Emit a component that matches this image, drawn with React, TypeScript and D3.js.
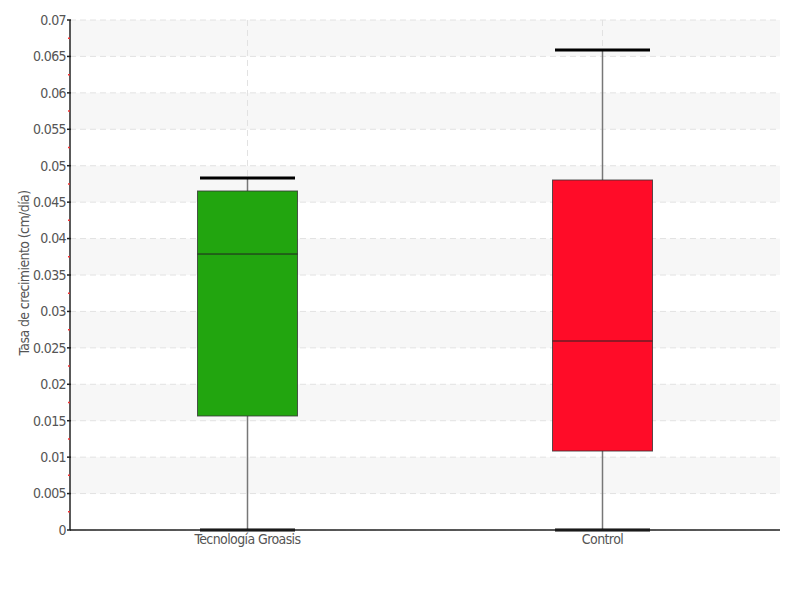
import React from "react";
import * as d3 from "d3";

const categories = ["Tecnología Groasis", "Control"];
const mins = [0, 0];
const q1s = [0.01565, 0.01084];
const medians = [0.03788, 0.02594];
const q3s = [0.04653, 0.04804];
const maxs = [0.04831, 0.06588];
const colors = ["#22a50f", "#ff0c28"];
const yTicks = d3.range(0, 0.0701, 0.005);
const yTitle = "Tasa de crecimiento (cm/día)";

export default function App() {
  const W = 800, H = 600;
  const left = 70, right = 780, top = 20, bottom = 530;
  const x = d3.scaleBand().domain(categories).range([left, right]);
  const y = d3.scaleLinear().domain([0, 0.07]).range([bottom, top]);
  const font = "'DejaVu Sans Condensed', 'Liberation Sans Narrow', sans-serif";
  const bands = yTicks.slice(0, -1).filter((_, i) => i % 2 === 1);
  const minor = yTicks.slice(0, -1).map((t) => t + 0.0025);
  const bw = 100, cw = 95;
  return (
    <svg width={W} height={H} style={{ position: "absolute", left: 0, top: 0 }}>
      {bands.map((t, i) => (
        <rect key={"b" + i} x={left} y={y(t + 0.005)} width={right - left} height={y(t) - y(t + 0.005)} fill="#f7f7f7" />
      ))}
      {yTicks.map((t, i) => (
        <line key={"g" + i} x1={left} x2={right} y1={y(t)} y2={y(t)} stroke="#e2e2e2" strokeDasharray="6,4" />
      ))}
      {categories.map((c, i) => (
        <line key={"vg" + i} x1={x(c)! + x.bandwidth() / 2} x2={x(c)! + x.bandwidth() / 2} y1={top} y2={bottom} stroke="#e2e2e2" strokeDasharray="6,4" />
      ))}
      {categories.map((c, i) => {
        const cx = x(c)! + x.bandwidth() / 2;
        return (
          <g key={"box" + i}>
            <line x1={cx} x2={cx} y1={y(maxs[i])} y2={y(mins[i])} stroke="#777" strokeWidth={1.5} />
            <line x1={cx - cw / 2} x2={cx + cw / 2} y1={y(maxs[i])} y2={y(maxs[i])} stroke="#000" strokeWidth={3} />
            <line x1={cx - cw / 2} x2={cx + cw / 2} y1={y(mins[i])} y2={y(mins[i])} stroke="#000" strokeWidth={3} />
            <rect x={cx - bw / 2} y={y(q3s[i])} width={bw} height={y(q1s[i]) - y(q3s[i])} fill={colors[i]} stroke="#333" strokeOpacity={0.8} strokeWidth={1} />
            <line x1={cx - bw / 2} x2={cx + bw / 2} y1={y(medians[i])} y2={y(medians[i])} stroke="#222" strokeWidth={1} />
          </g>
        );
      })}
      <line x1={left} x2={left} y1={top} y2={bottom} stroke="#222" strokeWidth={1.5} />
      <line x1={left} x2={right} y1={bottom} y2={bottom} stroke="#222" strokeWidth={1.5} />
      {yTicks.map((t, i) => (
        <g key={"t" + i}>
          <line x1={left - 3} x2={left + 1} y1={y(t)} y2={y(t)} stroke="#222" strokeWidth={1.5} />
          <text x={left - 4} y={y(t)} dy="0.35em" textAnchor="end" fontFamily={font} fontSize={14} fill="#555" letterSpacing={-0.6}>
            {+t.toFixed(3)}
          </text>
        </g>
      ))}
      {minor.map((t, i) => (
        <line key={"m" + i} x1={left - 2} x2={left} y1={y(t)} y2={y(t)} stroke="#e33" strokeWidth={1.5} />
      ))}
      {categories.map((c, i) => (
        <text key={"xl" + i} x={x(c)! + x.bandwidth() / 2} y={544} textAnchor="middle" fontFamily={font} fontSize={14} fill="#555" letterSpacing={-0.6}>
          {c}
        </text>
      ))}
      <text transform={`translate(29,273) rotate(-90)`} textAnchor="middle" fontFamily={font} fontSize={14} fill="#555" letterSpacing={-0.6}>
        {yTitle}
      </text>
    </svg>
  );
}
